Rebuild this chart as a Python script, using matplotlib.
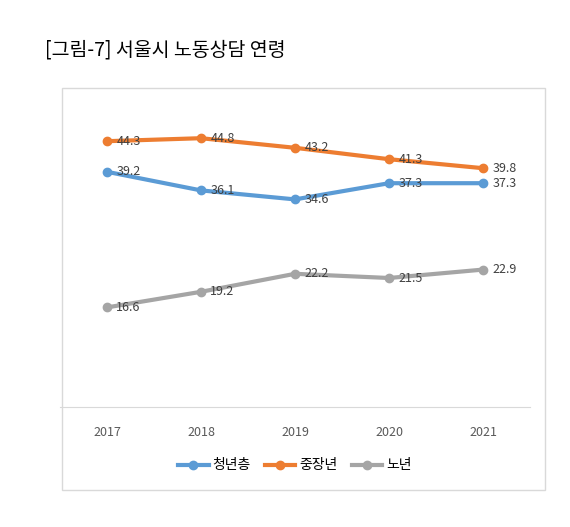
import matplotlib
matplotlib.use("Agg")
import matplotlib.pyplot as plt
from matplotlib.patches import Rectangle

plt.rcParams['font.family'] = ['Noto Sans CJK KR', 'DejaVu Sans']

years = ["2017", "2018", "2019", "2020", "2021"]
youth = [39.2, 36.1, 34.6, 37.3, 37.3]
middle = [44.3, 44.8, 43.2, 41.3, 39.8]
senior = [16.6, 19.2, 22.2, 21.5, 22.9]
names = ["청년층", "중장년", "노년"]
colors = ["#5b9bd5", "#ed7d31", "#a5a5a5"]

fig = plt.figure(figsize=(5.70, 5.27), dpi=100)
fig.patches.append(Rectangle((62/570, 1-490/527), (545-62)/570, (490-88)/527,
                             transform=fig.transFigure, fill=False, ec="#d9d9d9", lw=1))
fig.text(45/570, 1-50/527, "[그림-7] 서울시 노동상담 연령", fontsize=14, va="center", ha="left")

ax = fig.add_axes([60/570, 1-407/527, 470/570, 300/527])
x = range(len(years))
for vals, name, c in zip([youth, middle, senior], names, colors):
    ax.plot(x, vals, color=c, lw=3, marker="o", ms=6, label=name)
    for i, v in enumerate(vals):
        ax.text(i + 0.1, v, f"{v}", fontsize=9, color="#404040", va="center", ha="left")
ax.set_xlim(-0.5, 4.5)
ax.set_ylim(0, 50)
ax.set_xticks(list(x))
ax.set_xticklabels(years, fontsize=9, color="#595959")
ax.set_yticks([])
for s in ["top", "right", "left"]:
    ax.spines[s].set_visible(False)
ax.spines["bottom"].set_color("#d9d9d9")
ax.tick_params(axis="x", length=0, pad=14)
ax.legend(loc="upper center", bbox_to_anchor=(0.5, -0.13), ncol=3, frameon=False,
          fontsize=10, handlelength=2.2, columnspacing=1.0, handletextpad=0.3)
fig.savefig("out.png", dpi=100)
